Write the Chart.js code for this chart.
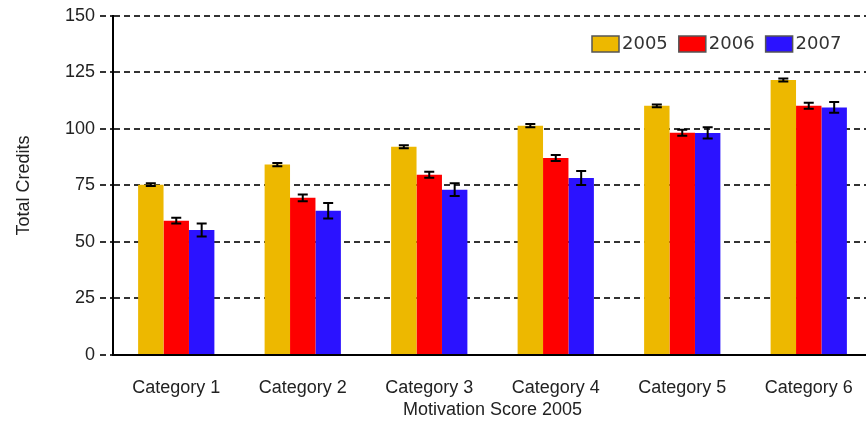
<!DOCTYPE html>
<html>
<head>
<meta charset="utf-8">
<script src="https://cdn.jsdelivr.net/npm/chart.js@4/dist/chart.umd.min.js"></script>
<style>
  html, body { margin: 0; padding: 0; background: #fff; }
  #wrap { width: 866px; height: 423px; overflow: hidden; }
  #box { width: 880px; height: 423px; position: relative; }
</style>
</head>
<body>
<div id="wrap"><div id="box"><canvas id="myChart"></canvas></div></div>
<script>
const categories = ["Category 1", "Category 2", "Category 3", "Category 4", "Category 5", "Category 6"];
const years = ["2005", "2006", "2007"];

const credits2005 = [75.3, 84.2, 92.1, 101.4, 110.2, 121.6];
const credits2006 = [59.4, 69.5, 79.7, 87.1, 98.3, 110.2];
const credits2007 = [55.3, 63.8, 73.1, 78.3, 98.2, 109.5];

const err2005 = [0.6, 0.7, 0.7, 0.7, 0.6, 0.7];
const err2006 = [1.3, 1.5, 1.3, 1.3, 1.3, 1.3];
const err2007 = [2.9, 3.4, 2.8, 3.1, 2.5, 2.4];

const yTicks = [0, 25, 50, 75, 100, 125, 150];

const colors = ["#EDB800", "#FE0000", "#2B12FF"];
const textFont = "'Liberation Sans', Arial, Helvetica, sans-serif";

const errorBars = {
  id: "errorBars",
  afterDatasetsDraw(chart) {
    const ctx = chart.ctx;
    const yScale = chart.scales.y;
    ctx.save();
    ctx.strokeStyle = "#000";
    ctx.lineWidth = 2;
    chart.data.datasets.forEach((ds, i) => {
      const meta = chart.getDatasetMeta(i);
      meta.data.forEach((bar, j) => {
        const v = ds.data[j];
        const e = ds.errors[j];
        const top = yScale.getPixelForValue(v + e);
        const bot = yScale.getPixelForValue(v - e);
        ctx.beginPath();
        ctx.moveTo(bar.x, top);
        ctx.lineTo(bar.x, bot);
        ctx.moveTo(bar.x - 5, top);
        ctx.lineTo(bar.x + 5, top);
        ctx.moveTo(bar.x - 5, bot);
        ctx.lineTo(bar.x + 5, bot);
        ctx.stroke();
      });
    });
    ctx.restore();
  }
};

// legend drawn by hand, small boxes close to the text like the original
const boxLegend = {
  id: "boxLegend",
  afterDraw(chart) {
    const ctx = chart.ctx;
    let x = chart.chartArea.right - 280;
    const y = 36;
    ctx.save();
    ctx.font = "18px 'DejaVu Sans', sans-serif";
    ctx.textBaseline = "middle";
    chart.data.datasets.forEach((ds) => {
      ctx.fillStyle = ds.backgroundColor;
      ctx.fillRect(x, y, 27, 16);
      ctx.strokeStyle = "#555";
      ctx.lineWidth = 1.5;
      ctx.strokeRect(x, y, 27, 16);
      ctx.fillStyle = "#333";
      ctx.fillText(ds.label, x + 30, y + 8.5);
      x += 30 + ctx.measureText(ds.label).width + 11;
    });
    ctx.restore();
  }
};

const ctx = document.getElementById("myChart").getContext("2d");
new Chart(ctx, {
  type: "bar",
  data: {
    labels: categories,
    datasets: [
      { label: years[0], data: credits2005, errors: err2005, backgroundColor: colors[0] },
      { label: years[1], data: credits2006, errors: err2006, backgroundColor: colors[1] },
      { label: years[2], data: credits2007, errors: err2007, backgroundColor: colors[2] },
    ],
  },
  options: {
    responsive: true,
    maintainAspectRatio: false,
    animation: false,
    layout: { padding: { top: 15, left: 10, right: 8, bottom: 0 } },
    datasets: { bar: { categoryPercentage: 0.603, barPercentage: 1.0, borderWidth: 0 } },
    plugins: {
      legend: { display: false },
      tooltip: { enabled: false },
    },
    scales: {
      x: {
        offset: true,
        grid: { display: false, drawTicks: false },
        border: { display: true, color: "#000", width: 2 },
        ticks: { color: "#222", font: { family: textFont, size: 18 }, padding: 22, maxRotation: 0 },
        title: {
          display: true,
          text: "Motivation Score 2005",
          color: "#222",
          font: { family: textFont, size: 18 },
          padding: { top: 0, bottom: 2 },
        },
        afterFit(scale) { scale.height = 68; },
      },
      y: {
        min: 0,
        max: 150,
        afterBuildTicks(scale) { scale.ticks = yTicks.map((v) => ({ value: v })); },
        grid: {
          color: "#333",
          lineWidth: 2,
          tickBorderDash: [6, 4],
          tickLength: 13,
          drawTicks: true,
        },
        border: { display: true, color: "#000", width: 2, dash: [6, 4] },
        ticks: { color: "#222", font: { family: textFont, size: 18 }, padding: 5 },
        title: {
          display: true,
          text: "Total Credits",
          color: "#222",
          font: { family: textFont, size: 18 },
          padding: { top: 3, bottom: 0 },
        },
        afterFit(scale) { scale.width = 103; },
      },
    },
  },
  plugins: [errorBars, boxLegend],
});
</script>
</body>
</html>
